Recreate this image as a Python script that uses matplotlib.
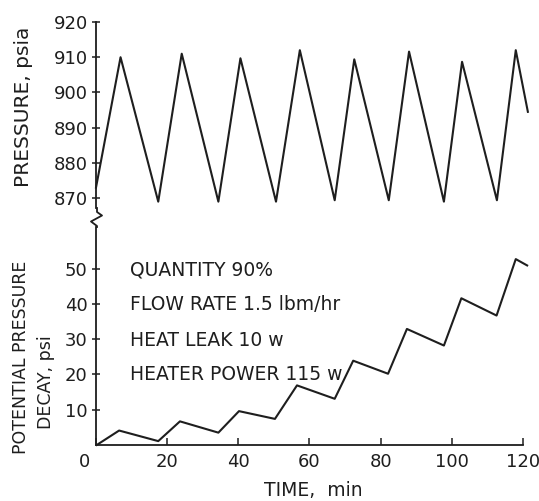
import matplotlib.pyplot as plt
from matplotlib.lines import Line2D
import matplotlib.transforms as mtransforms

W, H, DPI = 539, 501, 100
INK = '#1e1e1e'

# pressure trace (time min, psia)
t_press = [0, 6.9, 17.5, 24.1, 34.4, 40.6, 50.6, 57.3, 67.1, 72.6, 82.3,
           88.0, 97.8, 102.9, 112.7, 118.0, 121.4]
press = [873, 910, 869, 911, 869, 909.7, 869, 912, 869.4, 909.4, 869.4,
         911.6, 869, 908.7, 869.4, 912, 894.5]

# potential pressure decay (time min, psi)
t_decay = [0.2, 6.5, 17.5, 23.6, 34.4, 40.2, 50.3, 56.5, 67.1, 72.3, 82.1,
           87.4, 97.8, 102.7, 112.6, 118.0, 121.2]
decay = [0, 4.1, 1.1, 6.7, 3.5, 9.6, 7.4, 16.9, 13.1, 23.9, 20.2,
         32.9, 28.2, 41.6, 36.7, 52.7, 50.9]

press_ticks = [870, 880, 890, 900, 910, 920]
decay_ticks = [10, 20, 30, 40, 50]
time_ticks = [0, 20, 40, 60, 80, 100, 120]

notes = ["QUANTITY 90%", "FLOW RATE 1.5 lbm/hr", "HEAT LEAK 10 w",
         "HEATER POWER 115 w"]


def fx(px):
    return px / W


def fy(py):
    return 1 - py / H


plt.rcParams['font.family'] = ['DejaVu Sans']
fig = plt.figure(figsize=(W / DPI, H / DPI), dpi=DPI)

left, right = fx(96), fx(530)
ax1 = fig.add_axes([left, fy(208), right - left, fy(22) - fy(208)])
ax2 = fig.add_axes([left, fy(445), right - left, fy(227) - fy(445)])

for ax in (ax1, ax2):
    ax.set_xlim(0, 122)
    for s in ('top', 'right'):
        ax.spines[s].set_visible(False)
    for s in ('left', 'bottom'):
        ax.spines[s].set_color(INK)
        ax.spines[s].set_linewidth(1.3)
    ax.tick_params(colors=INK, labelsize=13, width=1.1)
    ax.tick_params(axis='y', direction='inout', length=6, pad=3)

# top panel
ax1.plot(t_press, press, color=INK, lw=1.5, clip_on=False)
ax1.set_ylim(867.2, 920)
ax1.set_yticks(press_ticks)
ax1.spines['bottom'].set_visible(False)
ax1.set_xticks([])

# bottom panel
ax2.plot(t_decay, decay, color=INK, lw=1.5, clip_on=False)
ax2.set_ylim(0, 61.8)
ax2.set_yticks(decay_ticks)
ax2.spines['bottom'].set_bounds(0, 120)
ax2.set_xticks(time_ticks)
ax2.set_xticklabels([str(v) for v in time_ticks])
ax2.tick_params(axis='x', direction='in', length=5, pad=6)
shift = mtransforms.ScaledTranslation(-12 / DPI, 0, fig.dpi_scale_trans)
lbl0 = ax2.get_xticklabels()[0]
lbl0.set_transform(lbl0.get_transform() + shift)
ax2.set_xlabel("TIME,  min", fontsize=13.5, color=INK, labelpad=7)

# axis break zigzag
zx = [97, 97, 102, 91, 97, 97]
zy = [208, 212, 215.5, 221.5, 226, 227]
fig.lines.append(Line2D([fx(v) for v in zx], [fy(v) for v in zy],
                        transform=fig.transFigure, color=INK, lw=1.3))

# y labels
fig.text(fx(24), fy(107), "PRESSURE, psia", rotation=90, ha='center',
         va='center', fontsize=14.5, color=INK)
fig.text(fx(21), fy(357), "POTENTIAL PRESSURE", rotation=90, ha='center',
         va='center', fontsize=12.5, color=INK)
fig.text(fx(46), fy(382), "DECAY, psi", rotation=90, ha='center',
         va='center', fontsize=12.5, color=INK)

# notes
for i, s in enumerate(notes):
    fig.text(fx(130), fy(270 + 35 * i), s, ha='left', va='center',
             fontsize=13.5, color=INK)

fig.savefig("out.png", dpi=DPI)
